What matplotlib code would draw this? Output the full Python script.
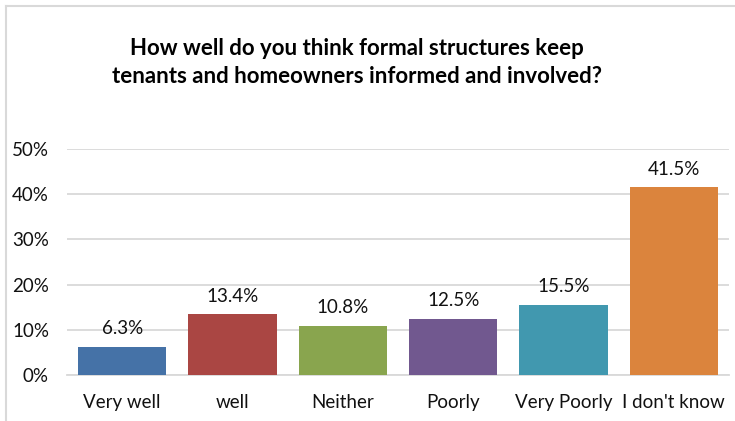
import matplotlib.pyplot as plt
from matplotlib.lines import Line2D

# survey answers and their share of respondents (%)
categories = ['Very well', 'well', 'Neither', 'Poorly', 'Very Poorly', "I don't know"]
shares = [6.3, 13.4, 10.8, 12.5, 15.5, 41.5]
colors = ['#4572A7', '#AA4643', '#89A54E', '#71588F', '#4198AF', '#DB843D']
yticks = [0, 10, 20, 30, 40, 50]

plt.rcParams['font.family'] = ['Lato', 'DejaVu Sans']

fig = plt.figure(figsize=(7.35, 4.21), dpi=100)
ax = fig.add_axes([67/735, 1 - 375/421, 662/735, 226/421])

x = range(len(categories))
ax.bar(x, shares, width=0.8, color=colors, zorder=3)
for i, v in enumerate(shares):
    ax.annotate(f'{v:.1f}%', (i, v), xytext=(0, 7), textcoords='offset points',
                ha='center', va='bottom', fontsize=13.5, color='#111111')

ax.set_xlim(-0.5, len(categories) - 0.5)
ax.set_ylim(0, 50)
ax.set_yticks(yticks)
ax.set_yticklabels([f'{t}%' for t in yticks])
ax.set_xticks(list(x))
ax.set_xticklabels(categories)
ax.yaxis.grid(True, color='#D9D9D9', linewidth=1.3, zorder=0)
ax.tick_params(axis='both', length=0, labelsize=13.5, labelcolor='#111111')
ax.tick_params(axis='x', pad=14)
ax.tick_params(axis='y', pad=13)
for side in ['top', 'right', 'left']:
    ax.spines[side].set_visible(False)
ax.spines['bottom'].set_color('#D9D9D9')
ax.spines['bottom'].set_linewidth(1.3)

fig.text(357/735, 1 - 62.5/421,
         'How well do you think formal structures keep\ntenants and homeowners informed and involved?',
         ha='center', va='center', fontsize=16, fontweight='bold',
         linespacing=1.42, color='black')

# chart frame (left and top edges)
fig.add_artist(Line2D([5.5/735, 5.5/735], [0, 1 - 6/421], color='#D9D9D9', linewidth=1.5))
fig.add_artist(Line2D([5.5/735, 1], [1 - 6/421, 1 - 6/421], color='#D9D9D9', linewidth=1.5))

fig.savefig('out.png', dpi=100)
